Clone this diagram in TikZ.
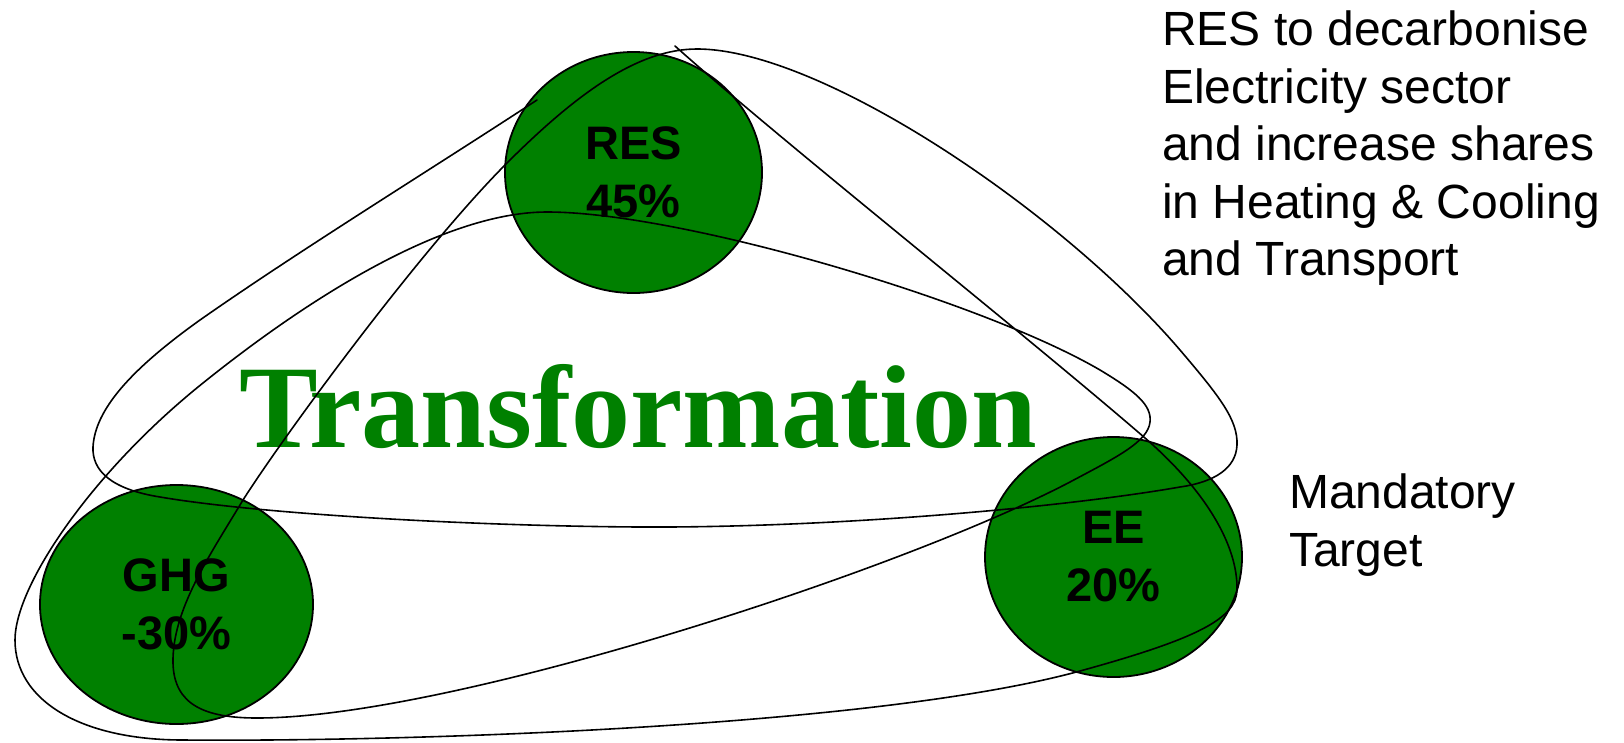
\documentclass[tikz,border=0pt]{standalone}
\usepackage{fontspec}
\setmainfont{Liberation Serif}
\newfontfamily\sansf{Liberation Sans}
\usetikzlibrary{shapes.geometric}
\definecolor{pgreen}{RGB}{0,128,0}
\begin{document}
\begin{tikzpicture}[x=1pt,y=-1pt,
  target/.style={ellipse, draw=black, line width=1.8pt, fill=pgreen, inner sep=0pt,
    align=center, font=\sansf\bfseries\fontsize{47}{58}\selectfont},
  loopline/.style={line width=1.6pt, line join=round, line cap=round},
  note/.style={anchor=north west, inner sep=0pt, align=left,
    font=\sansf\fontsize{48}{57.5}\selectfont},
  bigword/.style={anchor=base, inner sep=0pt, text=pgreen,
    font=\bfseries\fontsize{118}{120}\selectfont}]
\useasboundingbox (0,0) rectangle (1624,742);

% circles
\node[target, minimum width=257pt, minimum height=241pt] (res) at (633.5,172.5) {RES\\45\%};
\node[target, minimum width=273pt, minimum height=239pt] (ghg) at (176.5,604.5) {GHG\\-30\%};
\node[target, minimum width=257pt, minimum height=240pt] (ee) at (1113.5,557) {EE\\20\%};

% central word
\node[bigword] (trans) at (638,447) {Transformation};

% freehand loop
\draw[loopline] (675,46) .. controls (780,140) and (1020,330) .. (1145,438)
 .. controls (1205,490) and (1238,545) .. (1237,590)
 .. controls (1236,618) and (1200,638) .. (1080,671)
 .. controls (880,726) and (420,742) .. (183,740)
 .. controls (80,740) and (15,700) .. (15,640)
 .. controls (15,585) and (93,471) .. (203,383)
 .. controls (300,305) and (440,212) .. (547,212)
 .. controls (680,212) and (980,300) .. (1100,370)
 .. controls (1135,391) and (1152,405) .. (1150,422)
 .. controls (1148,442) and (1115,458) .. (1070,482)
 .. controls (900,571) and (450,718) .. (257,718)
 .. controls (205,718) and (174,705) .. (173,663)
 .. controls (172,610) and (210,555) .. (243,500)
 .. controls (283,437) and (420,250) .. (507,163)
 .. controls (580,90) and (640,49) .. (697,49)
 .. controls (820,49) and (1060,210) .. (1180,350)
 .. controls (1220,397) and (1238,420) .. (1237,445)
 .. controls (1236,468) and (1215,482) .. (1180,487)
 .. controls (1060,508) and (830,528) .. (640,527)
 .. controls (470,526) and (260,514) .. (160,497)
 .. controls (110,489) and (92,470) .. (93,447)
 .. controls (95,410) and (130,370) .. (200,320)
 .. controls (300,250) and (430,170) .. (537,100);

% side notes
\node[note] (goal) at (1162,11) {RES to decarbonise\\Electricity sector\\and increase shares\\in Heating \& Cooling\\and Transport};
\node[note] (mand) at (1289,474) {Mandatory\\Target};
\end{tikzpicture}
\end{document}
